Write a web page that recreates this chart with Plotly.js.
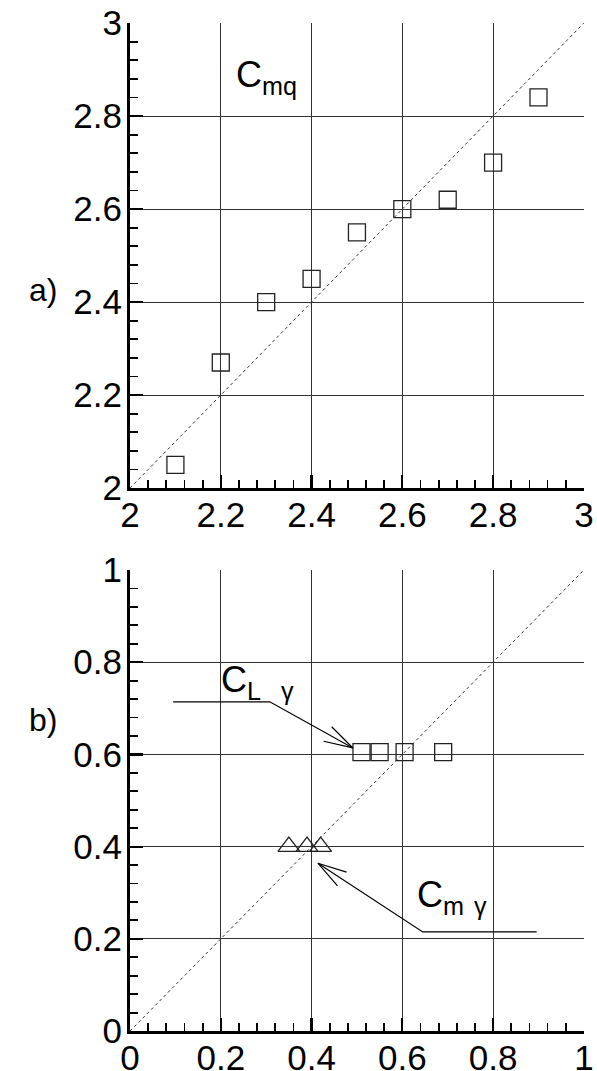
<!DOCTYPE html>
<html>
<head>
<meta charset="utf-8">
<script src="https://cdn.plot.ly/plotly-3.0.1.min.js"></script>
<style>
  html, body { margin: 0; padding: 0; background: #fff; }
  #graph { width: 597px; height: 1071px; }
</style>
</head>
<body>
<div id="graph"></div>
<script>
// panel a) Cmq
const cmqX = [2.1, 2.2, 2.3, 2.4, 2.5, 2.6, 2.7, 2.8, 2.9];
const cmqY = [2.05, 2.27, 2.40, 2.45, 2.55, 2.60, 2.62, 2.70, 2.84];
const diagA = [2, 3];

// panel b) CL gamma and Cm gamma
const clgX = [0.51, 0.55, 0.605, 0.69];
const clgY = [0.605, 0.605, 0.605, 0.605];
const cmgX = [0.35, 0.39, 0.42];
const cmgY = [0.40, 0.40, 0.40];
const diagB = [0, 1];

// leader lines for the labels in b)
const clLeadX = [0.095, 0.308, 0.491];
const clLeadY = [0.714, 0.714, 0.614];
const cmLeadX = [0.896, 0.645, 0.414];
const cmLeadY = [0.215, 0.215, 0.364];

const W = 597, H = 1071;
const XDOM = [0.2178, 0.978];
const YDOM_A = [0.5443, 0.9785];
const YDOM_B = [0.0373, 0.4678];

const FONT = 'Liberation Sans, Arial, sans-serif';
const INK = '#222';

const sq = { symbol: 'square-open', size: 17, color: INK, line: { width: 1.3, color: INK } };
const tri = { symbol: 'triangle-up-open', size: 19, color: INK, line: { width: 1.3, color: INK } };
const dotLine = { color: '#333', width: 1, dash: 'dot' };

// open V arrowhead at the end of a leader, built in pixel space of panel b
function barbs(xs, ys) {
  const sx = W * (XDOM[1] - XDOM[0]);
  const sy = H * (YDOM_B[1] - YDOM_B[0]);
  const n = xs.length - 1;
  const dx = (xs[n - 1] - xs[n]) * sx, dy = (ys[n - 1] - ys[n]) * sy;
  const a = Math.atan2(dy, dx), len = 30, spread = 0.28;
  const p = s => [xs[n] + len * Math.cos(a + s) / sx, ys[n] + len * Math.sin(a + s) / sy];
  const b1 = p(spread), b2 = p(-spread);
  return {
    x: [b1[0], xs[n], b2[0]], y: [b1[1], ys[n], b2[1]], xaxis: 'x2', yaxis: 'y2',
    mode: 'lines', line: { color: '#000', width: 1.2 }, cliponaxis: false
  };
}

function leader(xs, ys) {
  return { x: xs, y: ys, xaxis: 'x2', yaxis: 'y2', mode: 'lines', line: { color: '#000', width: 1.2 }, cliponaxis: false };
}

const traces = [
  { x: diagA, y: diagA, xaxis: 'x', yaxis: 'y', mode: 'lines', line: dotLine },
  { x: cmqX, y: cmqY, xaxis: 'x', yaxis: 'y', mode: 'markers', marker: sq },
  { x: diagB, y: diagB, xaxis: 'x2', yaxis: 'y2', mode: 'lines', line: dotLine },
  { x: clgX, y: clgY, xaxis: 'x2', yaxis: 'y2', mode: 'markers', marker: sq },
  { x: cmgX, y: cmgY, xaxis: 'x2', yaxis: 'y2', mode: 'markers', marker: tri },
  leader(clLeadX, clLeadY), barbs(clLeadX, clLeadY),
  leader(cmLeadX, cmLeadY), barbs(cmLeadX, cmLeadY)
];

function axis(range, domain, anchor, isX) {
  return {
    range: range, domain: domain, anchor: anchor,
    tickmode: 'linear', tick0: range[0], dtick: 0.2,
    ticks: 'inside', ticklen: 13, tickwidth: 2.2, tickcolor: '#000',
    ticklabelstandoff: isX ? -6 : -2,
    showline: true, linewidth: 3, linecolor: '#000',
    showgrid: true, gridcolor: '#333', gridwidth: 1,
    zeroline: false,
    minor: { tickmode: 'linear', tick0: range[0], dtick: 0.04, ticks: 'inside', ticklen: 8, tickwidth: 1.8, tickcolor: '#000', showgrid: false },
    tickfont: { family: FONT, size: 35, color: '#000' },
    fixedrange: true
  };
}

const layout = {
  width: W, height: H,
  margin: { l: 0, r: 0, t: 0, b: 0 },
  paper_bgcolor: '#fff', plot_bgcolor: '#fff',
  showlegend: false,
  font: { family: FONT, color: '#000' },
  xaxis: axis([2, 3], XDOM, 'y', true),
  yaxis: axis([2, 3], YDOM_A, 'x', false),
  xaxis2: axis([0, 1], XDOM, 'y2', true),
  yaxis2: axis([0, 1], YDOM_B, 'x2', false),
  annotations: [
    { xref: 'x', yref: 'y', x: 2.3, y: 2.885, text: 'C<sub>mq</sub>', showarrow: false, font: { size: 36 } },
    { xref: 'x2', yref: 'y2', x: 0.28, y: 0.757, text: 'C<sub>L</sub>&nbsp;&nbsp;<sub>γ</sub>', showarrow: false, font: { size: 36 } },
    { xref: 'x2', yref: 'y2', x: 0.71, y: 0.29, text: 'C<sub>m</sub>&nbsp;<sub>γ</sub>', showarrow: false, font: { size: 36 } },
    { xref: 'paper', yref: 'paper', x: 0.045, y: 0.748, text: 'a)', showarrow: false, font: { size: 32 } },
    { xref: 'paper', yref: 'paper', x: 0.045, y: 0.309, text: 'b)', showarrow: false, font: { size: 32 } }
  ]
};

Plotly.newPlot('graph', traces, layout, { staticPlot: true });
</script>
</body>
</html>
